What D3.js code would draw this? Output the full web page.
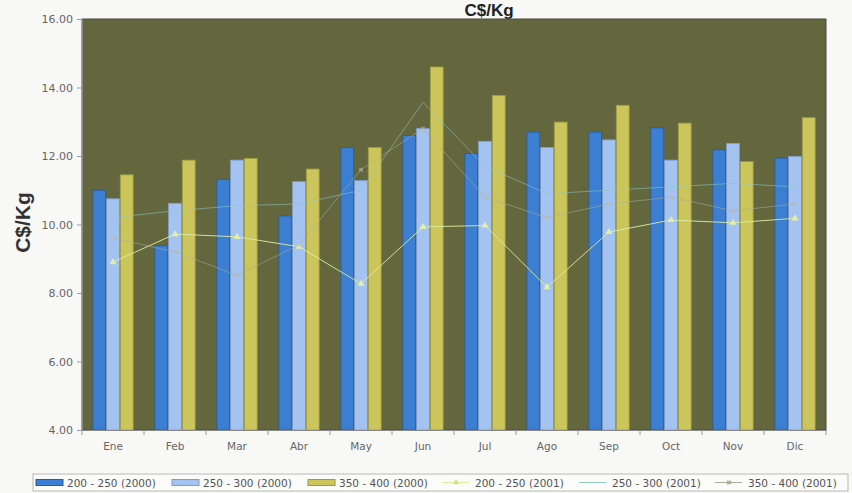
<!DOCTYPE html>
<html>
<head>
<meta charset="utf-8">
<script src="https://cdn.jsdelivr.net/npm/d3@7"></script>
<style>
  html, body { margin: 0; padding: 0; background: #f8f8f6; }
  svg { display: block; }
</style>
</head>
<body>
<svg id="chart" width="852" height="493"></svg>
<script>
// ---- data ----
const months = ["Ene","Feb","Mar","Abr","May","Jun","Jul","Ago","Sep","Oct","Nov","Dic"];
const barSeries = ["200 - 250 (2000)","250 - 300 (2000)","350 - 400 (2000)"];
const lineSeries = ["200 - 250 (2001)","250 - 300 (2001)","350 - 400 (2001)"];
const bar200_2000 = [11.00, 9.38, 11.32, 10.25, 12.25, 12.60, 12.07, 12.70, 12.70, 12.82, 12.18, 11.94];
const bar250_2000 = [10.75, 10.62, 11.88, 11.25, 11.28, 12.80, 12.43, 12.25, 12.47, 11.88, 12.37, 11.99];
const bar350_2000 = [11.45, 11.88, 11.93, 11.62, 12.25, 14.60, 13.77, 12.99, 13.48, 12.96, 11.84, 13.12];
const line200_2001 = [8.90, 9.72, 9.64, 9.35, 8.27, 9.93, 9.97, 8.17, 9.78, 10.13, 10.05, 10.18];
const line250_2001 = [10.20, 10.40, 10.55, 10.60, 11.00, 13.57, 11.70, 10.90, 11.00, 11.10, 11.20, 11.10];
const line350_2001 = [9.60, 9.20, 8.52, 9.40, 11.60, 12.80, 10.80, 10.20, 10.60, 10.80, 10.40, 10.60];
const yTicks = [4, 6, 8, 10, 12, 14, 16];
const title = "C$/Kg";
const yLabel = "C$/Kg";

// ---- layout ----
const svg = d3.select("#chart");
const W = 852, H = 493;
const m = { left: 82, right: 26, top: 19, bottom: 63 };
const pw = W - m.left - m.right, ph = H - m.top - m.bottom;
const FONT = "DejaVu Sans, Verdana, sans-serif";

const barColors = ["#3b7ed2", "#a4c3f0", "#cbc55c"];
const barStroke = ["#2b5a96", "#7f9ccc", "#9e9a3e"];
const lineColors = ["#dcecA0", "#8ec9c4", "#a8ad9a"];

const x0 = d3.scaleBand().domain(months).range([m.left, m.left + pw]).paddingInner(0.35).paddingOuter(0.175);
const x1 = d3.scaleBand().domain(barSeries).range([0, x0.bandwidth()]).paddingInner(0.06);
const y = d3.scaleLinear().domain([4, 16]).range([m.top + ph, m.top]);

// title
svg.append("text").attr("x", 489).attr("y", 16)
  .attr("text-anchor", "middle").attr("font-family", "Liberation Sans, Arial, sans-serif")
  .attr("font-weight", "bold").attr("font-size", 17).attr("fill", "#222").text(title);

// plot background
svg.append("rect").attr("x", m.left).attr("y", m.top).attr("width", pw).attr("height", ph)
  .attr("fill", "#64673d").attr("stroke", "#4a4a40").attr("stroke-width", 1);

// bars
const barData = [bar200_2000, bar250_2000, bar350_2000];
barSeries.forEach((s, si) => {
  svg.append("g").selectAll("rect").data(months).join("rect")
    .attr("x", d => x0(d) + x1(s))
    .attr("y", (d, i) => y(barData[si][i]))
    .attr("width", x1.bandwidth())
    .attr("height", (d, i) => y(4) - y(barData[si][i]))
    .attr("fill", barColors[si])
    .attr("stroke", barStroke[si]).attr("stroke-width", 0.8);
});

// lines
const lineData = [line200_2001, line250_2001, line350_2001];
const cx = d => x0(d) + x0.bandwidth() / 2;
lineSeries.forEach((s, si) => {
  const line = d3.line().x((d, i) => cx(months[i])).y(d => y(d));
  svg.append("path").datum(lineData[si]).attr("d", line)
    .attr("fill", "none").attr("stroke", lineColors[si]).attr("stroke-width", 1)
    .attr("opacity", si === 0 ? 0.9 : 0.55);
});
// triangle markers
svg.append("g").selectAll("path").data(line200_2001).join("path")
  .attr("transform", (d, i) => `translate(${cx(months[i])},${y(d)})`)
  .attr("d", d3.symbol(d3.symbolTriangle, 22))
  .attr("fill", "#e6f2a8").attr("opacity", 0.9);
// x markers
svg.append("g").selectAll("path").data(line350_2001).join("path")
  .attr("transform", (d, i) => `translate(${cx(months[i])},${y(d)}) rotate(45)`)
  .attr("d", d3.symbol(d3.symbolCross, 14))
  .attr("fill", "#b8bcae").attr("opacity", 0.6);

// y axis
const yAxis = svg.append("g").attr("transform", `translate(${m.left},0)`)
  .call(d3.axisLeft(y).tickValues(yTicks).tickFormat(d3.format(".2f")).tickSize(5).tickPadding(4));
yAxis.select(".domain").attr("stroke", "#888");
yAxis.selectAll("line").attr("stroke", "#999");
yAxis.selectAll("text").attr("font-family", FONT)
  .attr("font-size", 11).attr("fill", "#666");

// x axis
const xAxis = svg.append("g").attr("transform", `translate(0,${m.top + ph})`)
  .call(d3.axisBottom(x0).tickSize(0).tickPadding(13));
xAxis.select(".domain").attr("stroke", "#888");
xAxis.selectAll("text").attr("font-family", FONT)
  .attr("font-size", 10.5).attr("fill", "#666");
// tick marks between categories
svg.append("g").selectAll("line").data(d3.range(months.length + 1)).join("line")
  .attr("x1", i => m.left + i * x0.step()).attr("x2", i => m.left + i * x0.step())
  .attr("y1", m.top + ph).attr("y2", m.top + ph + 5).attr("stroke", "#999");

// y label
svg.append("text").attr("transform", `translate(30,${m.top + ph / 2 - 2}) rotate(-90)`)
  .attr("text-anchor", "middle").attr("font-family", "Liberation Sans, Arial, sans-serif")
  .attr("font-weight", "bold").attr("font-size", 21).attr("fill", "#333").text(yLabel);

// legend
const lg = svg.append("g");
lg.append("rect").attr("x", 33).attr("y", 474).attr("width", 815).attr("height", 17)
  .attr("fill", "#fbfbfa").attr("stroke", "#aaa").attr("stroke-width", 0.8);
const legendItems = [
  { name: barSeries[0], type: "bar", si: 0, tx: 67 },
  { name: barSeries[1], type: "bar", si: 1, tx: 203 },
  { name: barSeries[2], type: "bar", si: 2, tx: 339 },
  { name: lineSeries[0], type: "tri", si: 0, tx: 475 },
  { name: lineSeries[1], type: "line", si: 1, tx: 612 },
  { name: lineSeries[2], type: "x", si: 2, tx: 748 }
];
const ly = 482.5;
legendItems.forEach(it => {
  const g = lg.append("g");
  if (it.type === "bar") {
    g.append("rect").attr("x", it.tx - 31).attr("y", ly - 3).attr("width", 27).attr("height", 6)
      .attr("fill", barColors[it.si]).attr("stroke", barStroke[it.si]);
  } else {
    g.append("line").attr("x1", it.tx - 33).attr("x2", it.tx - 6).attr("y1", ly).attr("y2", ly)
      .attr("stroke", lineColors[it.si]).attr("stroke-width", 1);
    if (it.type === "tri") {
      g.append("path").attr("transform", `translate(${it.tx - 19},${ly})`)
        .attr("d", d3.symbol(d3.symbolTriangle, 18)).attr("fill", "#d8e27a");
    } else if (it.type === "x") {
      g.append("path").attr("transform", `translate(${it.tx - 19},${ly}) rotate(45)`)
        .attr("d", d3.symbol(d3.symbolCross, 14)).attr("fill", "#a8ad9a");
    }
  }
  g.append("text").attr("x", it.tx).attr("y", ly + 4)
    .attr("font-family", FONT).attr("font-size", 10.5)
    .attr("fill", "#555").text(it.name);
});
</script>
</body>
</html>
